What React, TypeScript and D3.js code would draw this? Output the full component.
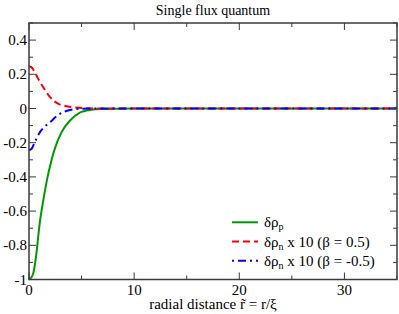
import * as d3 from 'd3'

// radial distance samples and densities
const protonR = [0, 0.2, 0.4, 0.7, 1.0, 1.35, 1.7, 2.15, 2.4, 3.1, 3.9, 4.8, 5.9, 7, 8.5, 10, 35]
const protonV = [-1, -0.99, -0.965, -0.85, -0.68, -0.54, -0.42, -0.3, -0.245, -0.138, -0.07, -0.025, -0.008, -0.003, -0.001, 0, 0]

const neutronPosR = [0, 0.3, 0.6, 1.0, 1.36, 2.0, 2.8, 3.6, 4.4, 5.5, 7, 35]
const neutronPosV = [0.247, 0.237, 0.205, 0.16, 0.124, 0.066, 0.027, 0.013, 0.006, 0.002, 0, 0]

const neutronNegR = [0, 0.25, 0.6, 1.04, 1.5, 2.0, 2.8, 3.7, 4.7, 6, 35]
const neutronNegV = [-0.243, -0.235, -0.19, -0.138, -0.105, -0.08, -0.037, -0.012, -0.002, 0, 0]

const xMajor = [0, 10, 20, 30]
const xMinor = [5, 15, 25, 35]
const yMajor = [0.4, 0.2, 0, -0.2, -0.4, -0.6, -0.8, -1]
const yMinor = [0.5, 0.3, 0.1, -0.1, -0.3, -0.5, -0.7, -0.9]

const W = 399
const H = 314
const left = 29
const right = 397
const top = 23
const bottom = 279.5

const FONT = "'Liberation Serif', 'DejaVu Serif', serif"
const AXIS = '#3a3a3a'

export default function App() {
  const x = d3.scaleLinear().domain([0, 35]).range([left, right])
  const y = d3.scaleLinear().domain([-1, 0.5]).range([bottom, top])

  const line = d3.line<[number, number]>()
    .x(d => x(d[0]))
    .y(d => y(d[1]))
    .curve(d3.curveMonotoneX)

  const series = [
    { r: protonR, v: protonV, color: '#009a00', dash: undefined },
    { r: neutronPosR, v: neutronPosV, color: '#ff0000', dash: '7,4' },
    { r: neutronNegR, v: neutronNegV, color: '#0000ff', dash: '8,4,2,4' }
  ]

  const fmt = (v: number) => String(Math.round(v * 10) / 10)

  const legend = [
    { color: '#009a00', dash: undefined, main: 'δρ', sub: 'p', rest: '' },
    { color: '#ff0000', dash: '7,4', main: 'δρ', sub: 'n', rest: ' x 10 (β = 0.5)' },
    { color: '#0000ff', dash: '2,4,8,4', main: 'δρ', sub: 'n', rest: ' x 10 (β = -0.5)' }
  ]

  return (
    <svg width={W} height={H} style={{ position: 'absolute', left: 0, top: 0, background: '#fff', fontFamily: FONT }}>
      <text x={(left + right) / 2} y={15} fontSize={14} textAnchor="middle">Single flux quantum</text>

      {series.map((s, i) => (
        <path key={i}
          d={line(s.r.map((r, j) => [r, s.v[j]] as [number, number])) || ''}
          fill="none" stroke={s.color} strokeWidth={2} strokeDasharray={s.dash} />
      ))}

      {/* frame */}
      <rect x={left} y={top} width={right - left} height={bottom - top} fill="none" stroke={AXIS} strokeWidth={1.5} />

      {/* x ticks, inward on bottom and top */}
      {xMajor.map(v => (
        <g key={'xM' + v}>
          <line x1={x(v)} x2={x(v)} y1={bottom} y2={bottom - 7} stroke={AXIS} strokeWidth={1} />
          <line x1={x(v)} x2={x(v)} y1={top} y2={top + 7} stroke={AXIS} strokeWidth={1} />
          <text x={x(v)} y={bottom + 15} fontSize={15} textAnchor="middle">{v}</text>
        </g>
      ))}
      {xMinor.map(v => (
        <g key={'xm' + v}>
          <line x1={x(v)} x2={x(v)} y1={bottom} y2={bottom - 4} stroke={AXIS} strokeWidth={1} />
          <line x1={x(v)} x2={x(v)} y1={top} y2={top + 4} stroke={AXIS} strokeWidth={1} />
        </g>
      ))}

      {/* y ticks, inward on left and right */}
      {yMajor.map(v => (
        <g key={'yM' + v}>
          <line x1={left} x2={left + 7} y1={y(v)} y2={y(v)} stroke={AXIS} strokeWidth={1} />
          <line x1={right} x2={right - 7} y1={y(v)} y2={y(v)} stroke={AXIS} strokeWidth={1} />
          <text x={left - 2} y={y(v) + 5} fontSize={15} textAnchor="end">{fmt(v)}</text>
        </g>
      ))}
      {yMinor.map(v => (
        <g key={'ym' + v}>
          <line x1={left} x2={left + 4} y1={y(v)} y2={y(v)} stroke={AXIS} strokeWidth={1} />
          <line x1={right} x2={right - 4} y1={y(v)} y2={y(v)} stroke={AXIS} strokeWidth={1} />
        </g>
      ))}

      <text x={(left + right) / 2} y={309} fontSize={15} textAnchor="middle">radial distance r&#x0303; = r/ξ</text>

      {/* legend */}
      {legend.map((l, i) => {
        const ly = 222.3 + i * 19.2
        return (
          <g key={'lg' + i}>
            <line x1={232} x2={258} y1={ly} y2={ly} stroke={l.color} strokeWidth={2} strokeDasharray={l.dash} />
            <text x={264} y={ly + 5} fontSize={15}>
              {l.main}
              <tspan fontSize={10} dy={3}>{l.sub}</tspan>
              <tspan dy={-3}>{l.rest}</tspan>
            </text>
          </g>
        )
      })}
    </svg>
  )
}
